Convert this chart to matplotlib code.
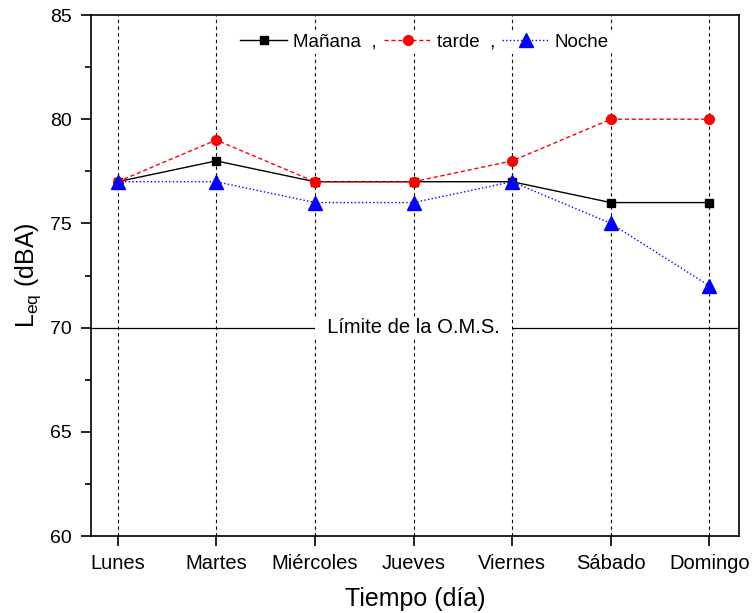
import matplotlib.pyplot as plt
from matplotlib.ticker import MultipleLocator

plt.rcParams['font.family'] = ['Liberation Sans', 'DejaVu Sans']

dias = ['Lunes', 'Martes', 'Miércoles', 'Jueves', 'Viernes', 'Sábado', 'Domingo']
manana = [77, 78, 77, 77, 77, 76, 76]
tarde = [77, 79, 77, 77, 78, 80, 80]
noche = [77, 77, 76, 76, 77, 75, 72]
limite_oms = 70

x = list(range(len(dias)))

fig = plt.figure(figsize=(7.55, 6.13), dpi=100)
ax = fig.add_axes([0.1205, 0.1256, 0.8583, 0.8499])

# lineas verticales punteadas en cada dia
for xi in x:
    ax.axvline(xi, color='black', linestyle=(0, (3, 3)), linewidth=0.8, zorder=1)

ax.axhline(limite_oms, color='black', linewidth=0.9, zorder=1)
ax.text(3, limite_oms, '  Límite de la O.M.S.  ', ha='center', va='center', fontsize=14.5,
        bbox=dict(facecolor='white', edgecolor='none', pad=1), zorder=2)

ax.plot(x, manana, color='black', linestyle='-', linewidth=1, marker='s', markersize=5.5,
        label='Mañana  ,', zorder=3)
ax.plot(x, tarde, color='red', linestyle='--', linewidth=1, marker='o', markersize=7,
        dashes=(3, 2), label='tarde  ,', zorder=3)
ax.plot(x, noche, color='blue', linestyle=':', linewidth=1, marker='^', markersize=10.5,
        label='Noche', zorder=4)

ax.set_xlim(-0.27, 6.3)
ax.set_ylim(60, 85)
ax.set_xticks(x)
ax.set_xticklabels(dias)
ax.yaxis.set_major_locator(MultipleLocator(5))
ax.yaxis.set_minor_locator(MultipleLocator(2.5))
ax.tick_params(axis='y', which='major', labelsize=14, length=7, width=1.2, direction='out', pad=7)
ax.tick_params(axis='y', which='minor', length=4, width=1.2, direction='out')
ax.tick_params(axis='x', length=7, width=1.2, direction='out', labelsize=14.5, pad=6)
for s in ax.spines.values():
    s.set_linewidth(1.2)

ax.set_xlabel('Tiempo (día)', fontsize=18, labelpad=10)
ax.set_ylabel(r'L$_{\mathregular{eq}}$ (dBA)', fontsize=18, labelpad=5)

leg = ax.legend(loc='center', bbox_to_anchor=(0.515, 0.948), ncol=3, frameon=True,
                edgecolor='none', facecolor='white', framealpha=1, fontsize=13.5,
                handlelength=2.5, columnspacing=0.4, handletextpad=0.3, borderpad=0.2)

fig.savefig('out.png', dpi=100)
